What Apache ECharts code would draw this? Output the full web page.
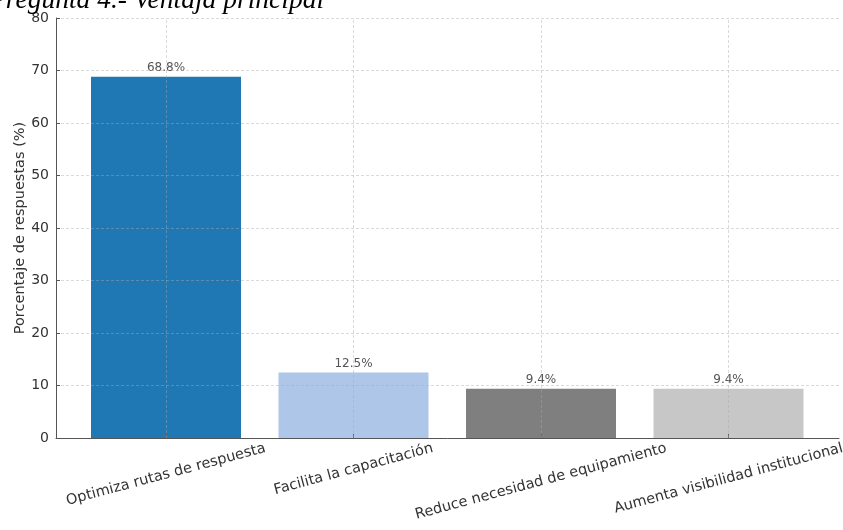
<!DOCTYPE html>
<html>
<head>
<meta charset="utf-8">
<script src="https://cdn.jsdelivr.net/npm/echarts@6/dist/echarts.min.js"></script>
<style>html,body{margin:0;padding:0;background:#fff;}#c{width:843px;height:530px;}</style>
</head>
<body>
<div id="c"></div>
<script>
const titleText = 'Pregunta 4.- Ventaja principal';
const categories = ['Optimiza rutas de respuesta', 'Facilita la capacitación', 'Reduce necesidad de equipamiento', 'Aumenta visibilidad institucional'];
const values = [68.8, 12.5, 9.4, 9.4];
const barColors = ['#1f77b4', '#aec7e8', '#7f7f7f', '#c7c7c7'];
const yTicks = { min: 0, max: 80, interval: 10 };
const yName = 'Porcentaje de respuestas (%)';

const font = 'DejaVu Sans';
const labelFontSize = 14.5;
const rot = 15 * Math.PI / 180;

// measure label widths to centre each rotated label under its tick (like ha='center')
const ctx = document.createElement('canvas').getContext('2d');
ctx.font = labelFontSize + 'px "' + font + '"';
const rich = {};
categories.forEach((c, i) => {
  const L = ctx.measureText(c).width;
  const s = L * Math.sin(rot) / 2;
  const b = s * Math.cos(rot), a = s * Math.sin(rot);
  rich['l' + i] = { fontFamily: font, fontSize: labelFontSize, color: '#333', padding: [2 * b, 2 * a, 0, 0] };
});

const chart = echarts.init(document.getElementById('c'), null, { renderer: 'canvas' });
const gridColor = 'rgba(170,170,170,0.55)';
chart.setOption({
  animation: false,
  backgroundColor: '#ffffff',
  title: {
    text: titleText, left: -11, top: -13, padding: 0,
    textStyle: { fontFamily: 'Liberation Serif', fontStyle: 'italic', fontWeight: 'normal', fontSize: 27.5, color: '#000' }
  },
  grid: [
    { left: 56, right: 4, top: 18, bottom: 92, outerBoundsMode: 'none', containLabel: false },
    { left: 72.25, right: 20.75, top: 18, bottom: 92, outerBoundsMode: 'none', containLabel: false }
  ],
  xAxis: [
    { type: 'value', gridIndex: 0, min: 0, max: 1, z: 3,
      axisLine: { show: true, lineStyle: { color: '#555', width: 1 } },
      axisTick: { show: false }, axisLabel: { show: false }, splitLine: { show: false } },
    { type: 'category', gridIndex: 1, data: categories, z: 3,
      axisLine: { show: false },
      axisTick: { show: true, alignWithLabel: true, length: 4, inside: true, lineStyle: { color: '#555' } },
      axisLabel: { rotate: 15, align: 'center', verticalAlign: 'middle', margin: 10, interval: 0, hideOverlap: false,
        formatter: (v, i) => '{l' + i + '|' + v + '}', rich: rich },
      splitLine: { show: false } }
  ],
  yAxis: [
    { type: 'value', gridIndex: 0, min: yTicks.min, max: yTicks.max, interval: yTicks.interval, z: 3,
      name: yName, nameLocation: 'middle', nameGap: 28, nameMoveOverlap: false,
      nameTextStyle: { fontFamily: font, fontSize: 14.5, color: '#333' },
      axisLine: { show: true, lineStyle: { color: '#555', width: 1 } },
      axisTick: { show: true, length: 4, inside: true, lineStyle: { color: '#555' } },
      axisLabel: { fontFamily: font, fontSize: 14, color: '#333', margin: 7 },
      splitLine: { show: true, lineStyle: { color: gridColor, type: [3, 2], width: 0.8 } } },
    { type: 'value', gridIndex: 1, min: yTicks.min, max: yTicks.max, interval: yTicks.interval, show: false }
  ],
  series: [{
    type: 'bar', xAxisIndex: 1, yAxisIndex: 1, barWidth: '80%',
    data: values.map((v, i) => ({ value: v, itemStyle: { color: barColors[i] } })),
    label: { show: true, position: 'top', distance: 3, formatter: '{c}%', fontFamily: font, fontSize: 12, color: '#555' },
    markLine: {
      silent: true, symbol: 'none', animation: false,
      label: { show: false },
      lineStyle: { color: gridColor, type: [3, 2], width: 0.8 },
      emphasis: { disabled: true },
      data: categories.map(c => ({ xAxis: c }))
    }
  }]
});
</script>
</body>
</html>
